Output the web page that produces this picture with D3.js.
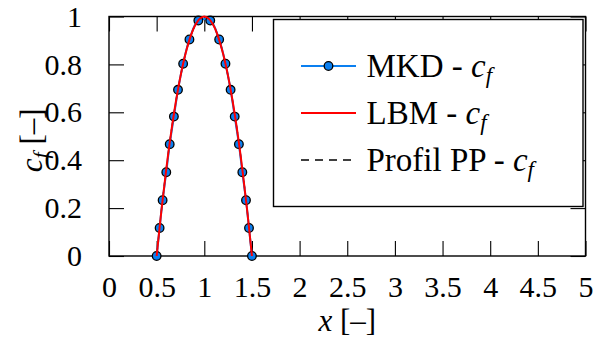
<!DOCTYPE html>
<html>
<head>
<meta charset="utf-8">
<script src="https://cdn.jsdelivr.net/npm/d3@7"></script>
</head>
<body style="margin:0; background:#fff">
<div id="chart"></div>
<script>
// MKD - c_f (markers)
const mkdX = [0.5, 0.531, 0.5625, 0.601, 0.637, 0.681, 0.724, 0.778, 0.844, 0.9375,
              1.0625, 1.156, 1.222, 1.276, 1.319, 1.363, 1.399, 1.4375, 1.469, 1.5];
const mkdY = [0, 0.117, 0.233, 0.35, 0.467, 0.582, 0.694, 0.803, 0.904, 0.983,
              0.983, 0.904, 0.803, 0.694, 0.582, 0.467, 0.35, 0.233, 0.117, 0];

// LBM - c_f
const lbmX = [0.5, 0.55, 0.6, 0.65, 0.7, 0.75, 0.8, 0.85, 0.9, 0.95, 1.0,
              1.05, 1.1, 1.15, 1.2, 1.25, 1.3, 1.35, 1.4, 1.45, 1.5];
const lbmY = [0, 0.19, 0.36, 0.51, 0.64, 0.75, 0.84, 0.91, 0.96, 0.99, 1.0,
              0.99, 0.96, 0.91, 0.84, 0.75, 0.64, 0.51, 0.36, 0.19, 0];

// Profil PP - c_f (hidden under LBM)
const ppY = [0, 0.19, 0.36, 0.51, 0.64, 0.75, 0.84, 0.91, 0.96, 0.99, 1.0,
             0.99, 0.96, 0.91, 0.84, 0.75, 0.64, 0.51, 0.36, 0.19, 0];

const xTicks = [0, 0.5, 1, 1.5, 2, 2.5, 3, 3.5, 4, 4.5, 5];
const yTicks = [0, 0.2, 0.4, 0.6, 0.8, 1];
const legendNames = ["MKD", "LBM", "Profil PP"];

const width = 594, height = 342;
const margin = {top: 16.5, right: 8.5, bottom: 86, left: 109};
const fontFam = "Liberation Serif";

const svg = d3.select("#chart").append("svg")
    .attr("width", width)
    .attr("height", height)
    .attr("font-family", fontFam);

const x = d3.scaleLinear().domain([0, 5]).range([margin.left, width - margin.right]);
const y = d3.scaleLinear().domain([0, 1]).range([height - margin.bottom, margin.top]);

const blue = "#0a7ff0";
const tickLen = 15;

// axes (pgfplots style: ticks inside, mirrored)
svg.append("g")
    .attr("transform", `translate(0,${y(0)})`)
    .call(d3.axisBottom(x).tickValues(xTicks).tickSize(-tickLen).tickPadding(20).tickFormat(d3.format("")))
    .call(g => g.select(".domain").remove());
svg.append("g")
    .attr("transform", `translate(0,${y(1)})`)
    .call(d3.axisTop(x).tickValues(xTicks).tickSize(-tickLen).tickFormat(""))
    .call(g => g.select(".domain").remove());
svg.append("g")
    .attr("transform", `translate(${x(0)},0)`)
    .call(d3.axisLeft(y).tickValues(yTicks).tickSize(-tickLen).tickPadding(27).tickFormat(d3.format("")))
    .call(g => g.select(".domain").remove());
svg.append("g")
    .attr("transform", `translate(${x(5)},0)`)
    .call(d3.axisRight(y).tickValues(yTicks).tickSize(-tickLen).tickFormat(""))
    .call(g => g.select(".domain").remove());

svg.selectAll("g").attr("font-family", fontFam);
svg.selectAll(".tick line").attr("stroke", "#000").attr("stroke-width", 1.1);
svg.selectAll(".tick text")
    .attr("font-family", fontFam).attr("font-size", 30)
    .style("font-family", fontFam).style("font-size", "30px").attr("fill", "#000");

// frame
svg.append("rect")
    .attr("x", x(0)).attr("y", y(1))
    .attr("width", x(5) - x(0)).attr("height", y(0) - y(1))
    .attr("fill", "none").attr("stroke", "#000").attr("stroke-width", 1.4);

// curves
const lineOf = (xs, ys) => d3.line()
    .x((d, i) => x(xs[i]))
    .y(d => y(d))
    .curve(d3.curveCatmullRom)(ys);

svg.append("path").attr("d", lineOf(lbmX, ppY))
    .attr("fill", "none").attr("stroke", "#000").attr("stroke-width", 1.4)
    .attr("stroke-dasharray", "8,6");

svg.append("path").attr("d", lineOf(mkdX, mkdY))
    .attr("fill", "none").attr("stroke", blue).attr("stroke-width", 2);

svg.selectAll(".mkd").data(mkdY).enter().append("circle")
    .attr("class", "mkd")
    .attr("cx", (d, i) => x(mkdX[i]))
    .attr("cy", d => y(d))
    .attr("r", 4.3)
    .attr("fill", blue).attr("stroke", "#000").attr("stroke-width", 1.3);

svg.append("path").attr("d", lineOf(lbmX, lbmY))
    .attr("fill", "none").attr("stroke", "#ff0000").attr("stroke-width", 2);

// axis labels
const xLabel = svg.append("text")
    .attr("x", x(2.5)).attr("y", 331)
    .attr("text-anchor", "middle")
    .attr("font-family", fontFam).attr("font-size", 31);
xLabel.append("tspan").attr("font-style", "italic").text("x");
xLabel.append("tspan").text(" [–]");

const yLabel = svg.append("text")
    .attr("transform", `translate(42,${y(0.5) + 4}) rotate(-90)`)
    .attr("text-anchor", "middle")
    .attr("font-family", fontFam).attr("font-size", 31);
yLabel.append("tspan").attr("font-style", "italic").text("c");
yLabel.append("tspan").attr("font-style", "italic").attr("font-size", 22).attr("dy", 6).text("f");
yLabel.append("tspan").attr("dy", -6).text(" [–]");

// legend
const legend = svg.append("g").attr("transform", "translate(273.5,19.5)");
legend.append("rect")
    .attr("width", 309.5).attr("height", 187)
    .attr("fill", "#fff").attr("stroke", "#000").attr("stroke-width", 1.4);

const rows = legend.selectAll(".row").data(legendNames).enter().append("g")
    .attr("transform", (d, i) => `translate(0,${46.5 + i * 47})`);

rows.append("line")
    .attr("x1", 27.5).attr("x2", 82.5)
    .attr("stroke", (d, i) => [blue, "#ff0000", "#000"][i])
    .attr("stroke-width", (d, i) => i === 2 ? 1.4 : 2)
    .attr("stroke-dasharray", (d, i) => i === 2 ? "8,6" : null);

rows.filter((d, i) => i === 0).append("circle")
    .attr("cx", 55).attr("r", 4.3)
    .attr("fill", blue).attr("stroke", "#000").attr("stroke-width", 1.3);

const rowText = rows.append("text")
    .attr("x", 93).attr("y", 11)
    .attr("font-family", fontFam).attr("font-size", 33);
rowText.append("tspan").text(d => d + " - ");
rowText.append("tspan").attr("font-style", "italic").text("c");
rowText.append("tspan").attr("font-style", "italic").attr("font-size", 23).attr("dy", 6).text("f");
</script>
</body>
</html>
